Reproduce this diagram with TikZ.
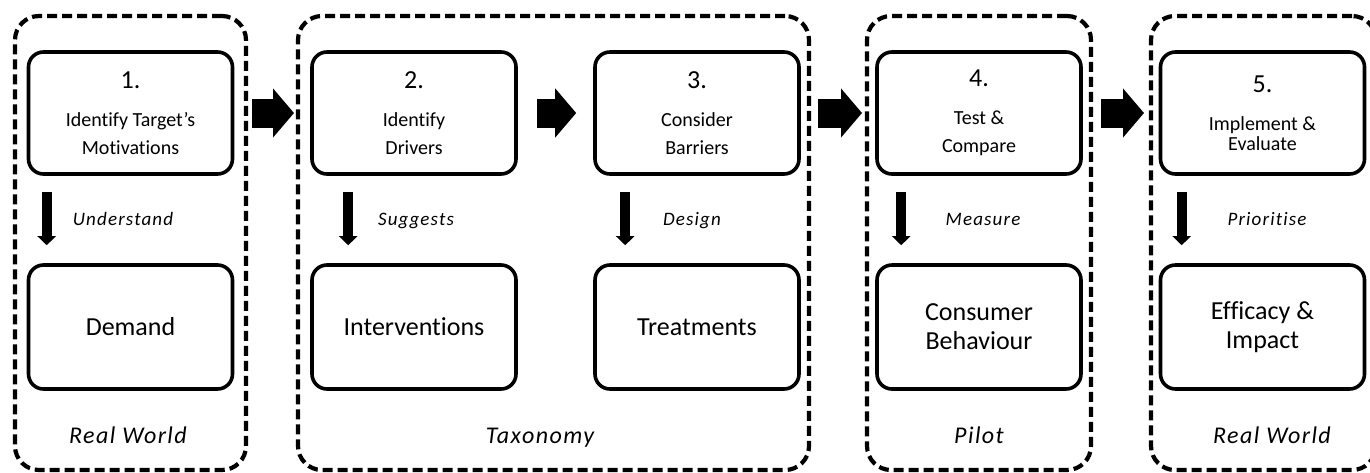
\documentclass[tikz,border=0pt]{standalone}
\usepackage{fontspec}
\setmainfont{Carlito}[Ligatures=NoCommon]
\usetikzlibrary{arrows.meta,positioning}

\begin{document}
\begin{tikzpicture}[
    x=0.5pt, y=-0.5pt,
    group/.style={draw, line width=2.1pt, dash pattern=on 5pt off 2.5pt,
        rounded corners=12pt, inner sep=0pt, outer sep=0pt, minimum height=227pt},
    stage/.style={draw, line width=1.8pt, rounded corners=7.5pt,
        minimum width=102pt, minimum height=61pt, align=center, inner sep=2pt,
        font=\fontsize{10}{14}\selectfont},
    result/.style={stage, minimum height=62pt, font=\fontsize{13}{14.5}\selectfont},
    flow/.style={line width=14.5pt, -{Triangle[length=10.5pt,width=24pt]}},
    down/.style={line width=5pt, -{Triangle[length=4.5pt,width=9pt]},
        shorten <=8pt, shorten >=9pt},
    verb/.style={anchor=base, font=\fontsize{9.5}{11}\selectfont\itshape\addfontfeature{LetterSpace=6}},
    place/.style={anchor=base, font=\fontsize{12}{14}\selectfont\itshape\addfontfeature{LetterSpace=6}}
]

\useasboundingbox (0,0) rectangle (1370,472);

% ------------------------------------------------------------
% Settings (dashed frames)
% ------------------------------------------------------------

\node[group, minimum width=115.5pt] (g1) at (130.5,243) {};
\node[group, minimum width=255.5pt] (g2) at (553.5,243) {};
\node[group, minimum width=112pt]   (g3) at (979,243) {};
\node[group, minimum width=112.5pt] (g4) at (1263.5,243) {};

% ------------------------------------------------------------
% Steps
% ------------------------------------------------------------

\node[stage] (b1) at (130.5,113) {{\fontsize{13}{14}\selectfont 1.}\\[5pt]Identify Target’s\\Motivations};
\node[stage] (b2) at (414,113) {{\fontsize{13}{14}\selectfont 2.}\\[5pt]Identify\\Drivers};
\node[stage] (b3) at (697,113) {{\fontsize{13}{14}\selectfont 3.}\\[5pt]Consider\\Barriers};
\node[stage] (b4) at (979,113) {{\fontsize{13}{14}\selectfont 4.}\\[5pt]Test \&\\Compare};
\node[stage] (b5) at (1262.5,113) {{\fontsize{13}{14}\selectfont 5.}\\[5pt]Implement \&\\[-4pt]Evaluate};

% Outcomes
\node[result] (d1) at (130.5,327) {Demand};
\node[result] (d2) at (414,327) {Interventions};
\node[result] (d3) at (697,327) {Treatments};
\node[result] (d4) at (979,327) {Consumer\\Behaviour};
\node[result] (d5) at (1262.5,327) {Efficacy \&\\Impact};

% ------------------------------------------------------------
% Arrows
% ------------------------------------------------------------

\draw[flow, shorten <=3pt, shorten >=2pt] (g1.east |- b1.east) -- (g2.west |- b2.west);
\draw[flow, shorten <=9.5pt, shorten >=8.5pt] (b2.east) -- (b3.west);
\draw[flow, shorten <=4.5pt, shorten >=2.5pt] (g2.east |- b3.east) -- (g3.west |- b4.west);
\draw[flow, shorten <=5pt, shorten >=3.5pt] (g3.east |- b4.east) -- (g4.west |- b5.west);

\draw[down] ([xshift=10pt]b1.south west) -- ([xshift=10pt]d1.north west);
\draw[down] ([xshift=19pt]b2.south west) -- ([xshift=19pt]d2.north west);
\draw[down] ([xshift=16pt]b3.south west) -- ([xshift=16pt]d3.north west);
\draw[down] ([xshift=13pt]b4.south west) -- ([xshift=13pt]d4.north west);
\draw[down] ([xshift=11.5pt]b5.south west) -- ([xshift=11.5pt]d5.north west);

% arrow labels
\node[verb] (v1) at (123,225) {Understand};
\node[verb] (v2) at (416,225) {Suggests};
\node[verb] (v3) at (692,225) {Design};
\node[verb] (v4) at (983,225) {Measure};
\node[verb] (v5) at (1267,225) {Prioritise};

% setting labels
\node[place] (p1) at (128,443) {Real World};
\node[place] (p2) at (540,443) {Taxonomy};
\node[place] (p3) at (979,443) {Pilot};
\node[place] (p4) at (1272,443) {Real World};

\end{tikzpicture}
\end{document}
